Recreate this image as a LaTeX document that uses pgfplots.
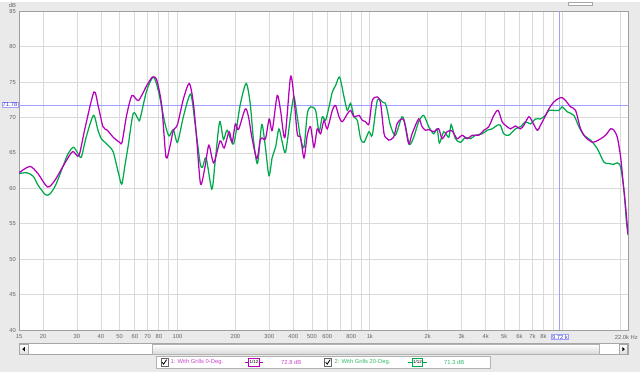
\documentclass[border=0pt]{standalone}
\usepackage{pgfplots}
\pgfplotsset{compat=1.18}
\usepackage{fontspec}
\setmainfont{Liberation Sans}
\definecolor{bgc}{RGB}{234,234,234}
\definecolor{mag}{RGB}{180,0,185}
\definecolor{grn}{RGB}{0,170,75}
\definecolor{magt}{RGB}{200,70,200}
\definecolor{grnt}{RGB}{50,185,105}
\definecolor{gridc}{RGB}{218,218,218}
\definecolor{markc}{RGB}{160,160,255}
\definecolor{tickc}{RGB}{100,100,100}
\newcommand\sm{\fontsize{5.8}{6.5}\selectfont}
\begin{document}
\begin{tikzpicture}[x=1pt,y=1pt]
\fill[bgc] (0,0) rectangle (640,370);
\begin{axis}[at={(19pt,41.8pt)}, anchor=south west, scale only axis,
  width=609pt, height=319pt, xmode=log, xmin=15, xmax=22000, ymin=40, ymax=85,
  axis background/.style={fill=white},
  axis line style={draw=gray!75, line width=0.8pt},
  grid=major, major grid style={gridc, line width=0.8pt},
  tick style={draw=none},
  ytick={40,45,...,85},
  xtick={15,20,30,40,50,60,70,80,90,100,200,300,400,500,600,700,800,900,1000,2000,3000,4000,5000,6000,7000,8000,9000,10000,20000},
  xticklabels={15,20,30,40,50,60,70,80,,100,200,300,400,500,600,,800,,1k,2k,3k,4k,5k,6k,7k,8k,,,},
  /pgf/number format/assume math mode=true,
  ticklabel style={font=\sm, text=tickc},
  xticklabel style={anchor=north, inner sep=0pt, yshift=-4pt},
  yticklabel style={anchor=east, inner sep=0pt, xshift=-3pt},
  clip=true]
\addplot[markc, line width=0.7pt] coordinates {(15,71.78) (22000,71.78)};
\addplot[markc, line width=0.7pt] coordinates {(9720,40) (9720,85)};
\addplot[grn, line width=1.25pt, smooth, tension=0.45] coordinates {
(15,62.1) (16.5,62.2) (17.8,61.7) (18.9,60.4) (20.6,59.1) (21.7,59.2) (23.2,60.4) (24.9,62.5)
(27.0,64.9) (28.8,65.8) (30.1,65.1) (31.6,64.4) (33.5,67.2) (36.6,70.3) (38.6,68.2) (40.2,67.0)
(42.0,66.5) (44.6,65.8) (46.4,65.1) (49.2,62.3) (51.3,60.6) (53.3,63.2) (55.5,66.1) (58.9,70.6)
(62.7,69.7) (63.9,69.8) (69.2,73.8) (74.9,75.7) (79.5,73.8) (86.2,69.1) (90.4,67.4) (95.2,68.3)
(100,66.5) (107.3,70.1) (117,73.3) (123.5,69.1) (131.1,63.6) (135.1,63.0) (140.9,64.3) (150.9,59.9)
(156.9,63.7) (165.7,69.4) (173.4,66.9) (181.2,68.2) (196,66.3) (211.9,71.8) (227.6,74.8) (238.8,72.0)
(248.5,66.8) (260.7,63.5) (274.2,69.0) (286,66.0) (299,61.8) (311,64.4) (323.5,65.8) (337,68.4)
(350.6,66.5) (364.7,65.1) (387,70.1) (403,72.9) (419.6,70.1) (436.6,67.0) (454.8,65.8) (473,70.5)
(492,71.5) (522.6,71.0) (544.5,68.0) (566.4,70.1) (589,69.6) (613.8,71.5) (638.6,73.6) (664,74.5)
(696.7,75.7) (734.4,72.9) (764,71.0) (795,72.0) (828,70.1) (861,69.6) (896,67.0) (933,66.5)
(990,68.0) (1030,67.5) (1094,72.4) (1162,72.2) (1204,72.0) (1233,71.0) (1279,68.9) (1358,67.5)
(1471,70.1) (1530,68.9) (1606,66.2) (1691,67.2) (1795,69.4) (1906,70.3) (2024,68.7) (2149,67.7)
(2239,68.4) (2301,66.4) (2423,68.0) (2573,67.2) (2648,69.0) (2788,67.0) (2960,66.5) (3143,67.2)
(3338,67.0) (3544,67.5) (3840,67.7) (4077,68.2) (4329,68.4) (4591,68.9) (4778,68.9) (4970,67.7)
(5277,67.5) (5719,68.4) (6073,68.7) (6447,69.4) (6852,69.1) (7273,69.8) (7718,69.8) (8194,70.3)
(8525,71.0) (9054,71.0) (9612,71.0) (10000,71.5) (10630,70.8) (11506,70.3) (12216,68.7) (12970,67.5)
(14056,66.8) (15231,65.6) (16490,63.7) (17508,63.5) (18588,63.4) (19360,63.6) (20145,63.0) (20956,59.7)
(21561,55.5) (22000,53.4)};
\addplot[mag, line width=1.25pt, smooth, tension=0.45] coordinates {
(15,62.2) (17.1,63.1) (18.8,62.1) (21.1,60.2) (23.0,61.1) (25.9,63.5) (28.5,65.2) (30.7,64.6)
(33.0,68.4) (36.8,73.6) (38.8,71.5) (41.0,68.7) (43.2,68.2) (46.4,67.2) (50.0,66.5) (51.5,66.5)
(54.4,70.3) (58.0,73.1) (62.7,72.4) (69.2,74.5) (74.1,75.7) (78.0,75.3) (82.8,71.7) (87.2,64.4)
(91.5,66.0) (95.2,68.2) (100,69.0) (107.3,72.6) (115.2,74.8) (121.0,72.0) (126.0,66.8) (131.9,60.6)
(139.2,63.1) (145.7,66.1) (154.3,63.6) (166.6,66.7) (174.8,65.7) (185.6,68.0) (192.5,66.5) (200,69.1)
(207.6,68.3) (225,71.2) (234,70.1) (243.7,67.2) (258.8,64.2) (269.3,66.8) (275.9,67.1) (287,67.0)
(300,69.8) (311,68.2) (330,73.1) (343.5,71.0) (362,67.2) (387,75.7) (403,72.9) (419.6,67.7)
(436.6,67.2) (454.8,64.3) (473,67.5) (492,68.7) (512.7,65.8) (533,68.4) (555,67.7) (578,69.6)
(601,68.4) (638.6,71.0) (664,71.7) (691.7,70.1) (719.5,69.4) (764,70.5) (795,71.0) (828,70.1)
(878.7,70.3) (914,69.6) (951,69.4) (990,69.1) (1030,72.4) (1094,72.9) (1138,72.0) (1186,67.7)
(1233,67.0) (1253,66.8) (1330,67.2) (1386,69.1) (1459,69.8) (1512,69.4) (1593,66.3) (1659,67.7)
(1795,69.8) (1870,68.7) (1946,68.2) (2024,68.3) (2149,68.0) (2282,68.4) (2377,67.0) (2524,68.0)
(2680,68.1) (2846,67.0) (3022,67.5) (3208,67.0) (3406,67.5) (3687,67.5) (3915,68.2) (4156,68.7)
(4413,70.3) (4647,71.0) (4874,69.4) (5072,68.9) (5387,68.4) (5719,68.8) (6073,68.4) (6318,68.9)
(6712,70.1) (7000,69.4) (7424,68.2) (7718,68.9) (8030,69.8) (8525,71.2) (9054,72.2) (9612,72.7)
(10000,72.8) (10416,72.4) (11060,71.5) (11743,71.0) (12468,68.4) (13238,67.2) (14346,66.5) (14924,66.6)
(15850,67.0) (16830,67.5) (17868,68.4) (18588,68.2) (19360,67.2) (20145,64.4) (20708,61.1) (21388,57.4)
(22000,53.5)};
\end{axis}
% labels around the axis
\node[font=\sm, text=tickc] at (12.5,366.5) {dB};
\node[draw=markc, fill=white, inner sep=0.6pt, font=\sm, text=blue!55!gray] at (10,267) {71.78};
\node[draw=markc, fill=white, inner sep=0.6pt, font=\sm, text=blue!55!gray] at (560,35) {9.72 k};
\node[anchor=east, inner sep=0pt, font=\sm, text=tickc] at (638,35) {22.0k Hz};
% top right control
\draw[gray!70, fill=white] (568,366.5) rectangle (592,370);
% scrollbar
\draw[gray!70, fill=white] (19,17.3) rectangle (628,28.3);
\shade[top color=white, bottom color=gray!30] (152,17.8) rectangle (599,27.8);
\draw[gray!60] (152,17.8) rectangle (599,27.8);
\shade[top color=white, bottom color=gray!25] (19.5,17.8) rectangle (28.3,27.8);
\draw[gray!70] (19.5,17.8) rectangle (28.3,27.8);
\fill[black] (22.3,22.8) -- (24.8,25) -- (24.8,20.6) -- cycle;
\shade[top color=white, bottom color=gray!25] (619,17.8) rectangle (627.5,27.8);
\draw[gray!70] (619,17.8) rectangle (627.5,27.8);
\fill[black] (624.8,22.8) -- (622.3,25) -- (622.3,20.6) -- cycle;
% legend
\draw[gray!60, fill=white] (156,3.3) rectangle (490,15.7);
\draw[gray!80!black, fill=white] (160.7,6) rectangle (167.7,13.3);
\draw[black, line width=0.8pt] (162,9.8) -- (163.6,7.8) -- (166.6,12.3);
\node[anchor=west, inner sep=0pt, font=\sm, text=magt] at (170.5,9.6) {1: With Grills 0-Deg.};
\draw[mag, line width=0.8pt] (245,9.6) -- (263,9.6);
\node[draw=mag, line width=0.8pt, fill=white, inner sep=0.8pt, minimum width=10pt, minimum height=8pt, font=\fontsize{4.5}{5}\selectfont] at (254,9.6) {1/12};
\node[anchor=west, inner sep=0pt, font=\sm, text=magt] at (281,9.6) {72.8 dB};
\draw[gray!80!black, fill=white] (324.3,6) rectangle (331.3,13.3);
\draw[black, line width=0.8pt] (325.6,9.8) -- (327.2,7.8) -- (330.2,12.3);
\node[anchor=west, inner sep=0pt, font=\sm, text=grnt] at (334.5,9.6) {2: With Grills 20-Deg.};
\draw[grn, line width=0.8pt] (408,9.6) -- (427,9.6);
\node[draw=grn, line width=0.8pt, fill=white, inner sep=0.8pt, minimum width=10pt, minimum height=8pt, font=\fontsize{4.5}{5}\selectfont] at (417.5,9.6) {1/12};
\node[anchor=west, inner sep=0pt, font=\sm, text=grnt] at (444,9.6) {71.3 dB};
\end{tikzpicture}
\end{document}
